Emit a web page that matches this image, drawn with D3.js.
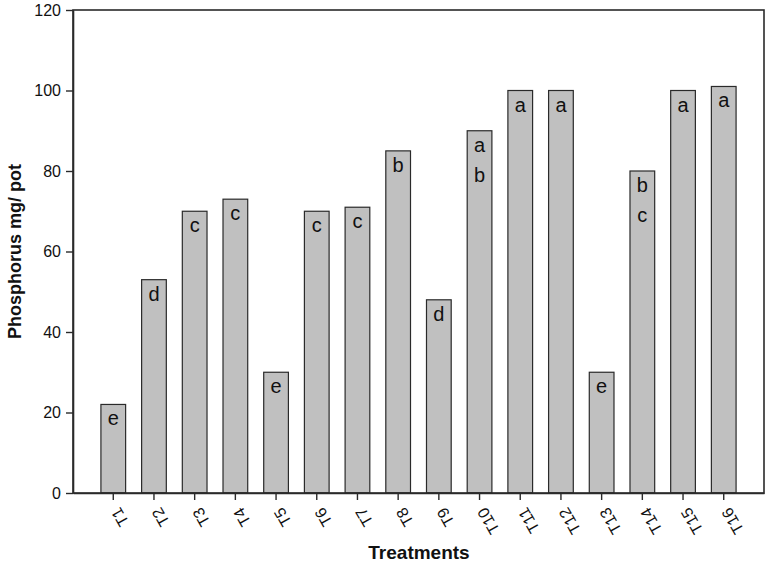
<!DOCTYPE html>
<html>
<head>
<meta charset="utf-8">
<script src="https://cdn.jsdelivr.net/npm/d3@7"></script>
<style>
  body { margin: 0; background: #fff; }
  text { font-family: "Liberation Sans", Arial, Helvetica, sans-serif; }
</style>
</head>
<body>
<div id="vis1"></div>
<script>
const FRAME_WIDTH = 767;
const FRAME_HEIGHT = 565;
const MARGINS = {left: 73, right: 3, top: 10, bottom: 72};

// data
const treatments = ["T1","T2","T3","T4","T5","T6","T7","T8","T9","T10","T11","T12","T13","T14","T15","T16"];
const phosphorus = [22, 53, 70, 73, 30, 70, 71, 85, 48, 90, 100, 100, 30, 80, 100, 101];
const groups = [["e"],["d"],["c"],["c"],["e"],["c"],["c"],["b"],["d"],["a","b"],["a"],["a"],["e"],["b","c"],["a"],["a"]];
const yTicks = [0, 20, 40, 60, 80, 100, 120];

const VIS_WIDTH = FRAME_WIDTH - MARGINS.left - MARGINS.right;
const VIS_HEIGHT = FRAME_HEIGHT - MARGINS.top - MARGINS.bottom;

const FRAME = d3.select("#vis1")
  .append("svg")
    .attr("width", FRAME_WIDTH)
    .attr("height", FRAME_HEIGHT);

const X_SCALE = d3.scaleBand()
  .domain(treatments)
  .range([MARGINS.left, MARGINS.left + VIS_WIDTH])
  .paddingInner(0.393)
  .paddingOuter(0.686);

const Y_SCALE = d3.scaleLinear()
  .domain([0, 120])
  .range([MARGINS.top + VIS_HEIGHT, MARGINS.top]);

// bars
FRAME.selectAll(".bar")
  .data(treatments)
  .enter()
  .append("rect")
    .attr("class", "bar")
    .attr("x", d => X_SCALE(d))
    .attr("y", (d, i) => Y_SCALE(phosphorus[i]))
    .attr("width", X_SCALE.bandwidth())
    .attr("height", (d, i) => Y_SCALE(0) - Y_SCALE(phosphorus[i]))
    .attr("fill", "#c0c0c0")
    .attr("stroke", "#2a2a2a")
    .attr("stroke-width", 1.2);

// significance letters
treatments.forEach((t, i) => {
  groups[i].forEach((g, j) => {
    FRAME.append("text")
      .attr("x", X_SCALE(t) + X_SCALE.bandwidth() / 2)
      .attr("y", Y_SCALE(phosphorus[i]) + 21 + j * 30)
      .attr("text-anchor", "middle")
      .attr("font-size", 20)
      .attr("fill", "#111")
      .text(g);
  });
});

// frame box (top and right)
FRAME.append("rect")
  .attr("x", MARGINS.left)
  .attr("y", MARGINS.top)
  .attr("width", VIS_WIDTH)
  .attr("height", VIS_HEIGHT)
  .attr("fill", "none")
  .attr("stroke", "#2a2a2a")
  .attr("stroke-width", 1.6);

// y axis
const yAxis = FRAME.append("g")
  .attr("transform", "translate(" + MARGINS.left + ",0)")
  .call(d3.axisLeft(Y_SCALE).tickValues(yTicks).tickSize(7).tickPadding(5).tickSizeOuter(0));
yAxis.select(".domain").attr("stroke", "#2a2a2a").attr("stroke-width", 1.6);
yAxis.selectAll(".tick line").attr("stroke", "#2a2a2a").attr("stroke-width", 1.4);
yAxis.selectAll(".tick text")
  .attr("font-size", 16)
  .attr("fill", "#111")
  .style("font-family", "'Liberation Sans', Arial, sans-serif");

// x axis
const xAxis = FRAME.append("g")
  .attr("transform", "translate(0," + (MARGINS.top + VIS_HEIGHT) + ")")
  .call(d3.axisBottom(X_SCALE).tickSize(7).tickSizeOuter(0));
xAxis.select(".domain").attr("stroke", "#2a2a2a").attr("stroke-width", 1.6);
xAxis.selectAll(".tick line").attr("stroke", "#2a2a2a").attr("stroke-width", 1.4);
xAxis.selectAll(".tick text")
  .attr("font-size", 16)
  .attr("fill", "#111")
  .style("font-family", "'Liberation Sans', Arial, sans-serif")
  .attr("text-anchor", "end")
  .attr("x", 0)
  .attr("y", 0)
  .attr("dy", "0.35em")
  .attr("transform", "translate(2,16) rotate(-120)");

// axis titles
FRAME.append("text")
  .attr("x", 419)
  .attr("y", 559)
  .attr("text-anchor", "middle")
  .attr("font-size", 19)
  .attr("font-weight", "bold")
  .attr("fill", "#111")
  .text("Treatments");

FRAME.append("text")
  .attr("transform", "translate(21," + (MARGINS.top + VIS_HEIGHT / 2) + ") rotate(-90)")
  .attr("text-anchor", "middle")
  .attr("font-size", 18)
  .attr("font-weight", "bold")
  .attr("fill", "#111")
  .text("Phosphorus mg/ pot");
</script>
</body>
</html>
